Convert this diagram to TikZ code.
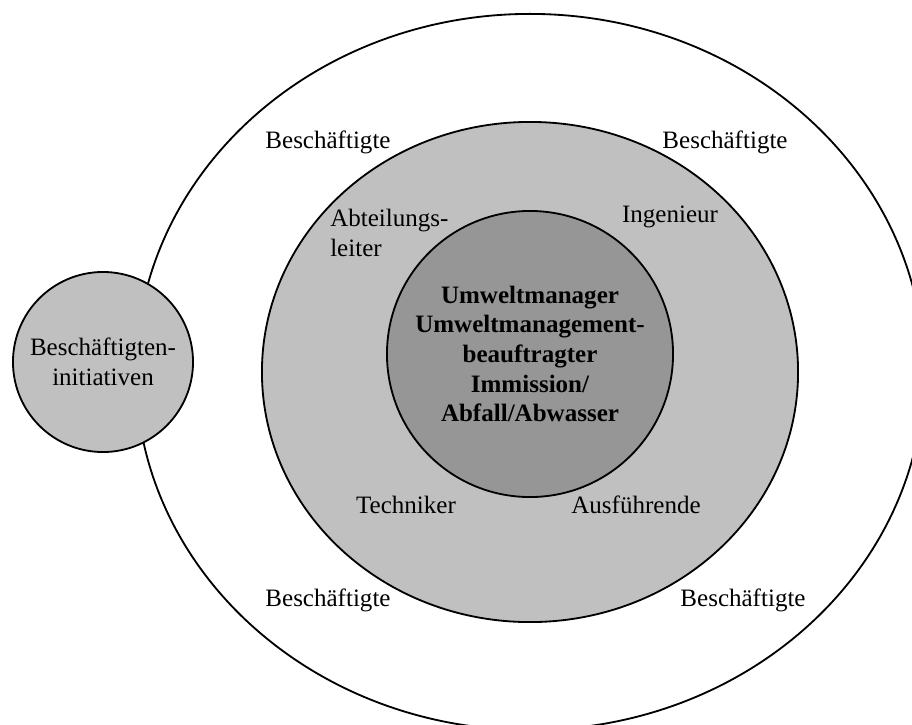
\documentclass[tikz,border=0pt]{standalone}
\usepackage{fontspec}
\setmainfont{Liberation Serif}
\usepackage{tikz}
\usetikzlibrary{shapes.geometric,positioning}
\definecolor{ringgrau}{RGB}{192,192,192}
\definecolor{kerngrau}{RGB}{150,150,150}
\newcommand{\diagfont}{\fontsize{17.8}{21.1}\selectfont}

\begin{document}
\begin{tikzpicture}[x=0.025cm, y=-0.025cm]
	\tikzset{font=\diagfont}
	\tikzset{ring/.style = {shape=ellipse,draw,line width=1.3pt,inner sep=0pt}}
	\tikzset{tag/.style = {inner sep=0pt,align=center}}

	\useasboundingbox (0,0) rectangle (912,724);
	\clip (0,0) rectangle (912,724);

	% Ringe von aussen nach innen
	\node[ring,fill=white,minimum width=19.7cm,minimum height=17.9cm] (aussen) at (530,372) {};
	\node[ring,fill=ringgrau,minimum width=13.4cm,minimum height=12.5cm] (mitte) at (530,372) {};
	\node[ring,shape=circle,fill=kerngrau,minimum size=7.15cm,align=center,font=\diagfont\bfseries] (kern) at (530,354)
		{Umweltmanager\\Umweltmanagement-\\beauftragter\\Immission/\\Abfall/Abwasser};
	\node[ring,shape=circle,fill=ringgrau,minimum size=4.5cm,align=center] (initiativen) at (103,362)
		{Besch\"aftigten-\\initiativen};

	% Beschriftungen
	\node[tag] (beschOL) at (328,142) {Besch\"aftigte};
	\node[tag] (beschOR) at (725,142) {Besch\"aftigte};
	\node[tag,align=left,anchor=west] (abteilung) at (330,233) {Abteilungs-\\leiter};
	\node[tag] (ingenieur) at (670,217) {Ingenieur};
	\node[tag] (techniker) at (406,505) {Techniker};
	\node[tag] (ausfuehrende) at (636,505) {Ausf\"uhrende};
	\node[tag] (beschUL) at (328,600) {Besch\"aftigte};
	\node[tag] (beschUR) at (743,600) {Besch\"aftigte};
\end{tikzpicture}
\end{document}
